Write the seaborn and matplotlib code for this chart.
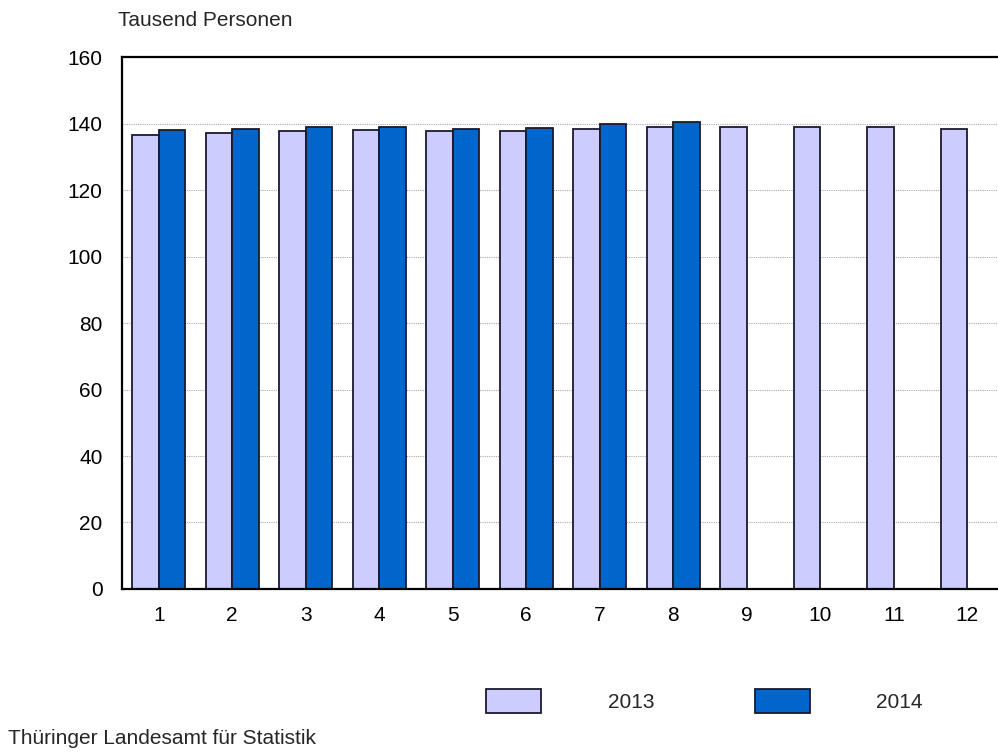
import numpy as np
import pandas as pd
import matplotlib
matplotlib.use('Agg')
import matplotlib.pyplot as plt
import seaborn as sns

# Werte (Tausend Personen) je Monat
monate = [str(m) for m in range(1, 13)]
werte_2013 = [136.5, 137.1, 137.6, 137.9, 137.7, 137.8, 138.4, 139.0, 139.0, 138.9, 138.8, 138.3]
werte_2014 = [138.1, 138.4, 139.0, 138.8, 138.4, 138.6, 139.9, 140.4, np.nan, np.nan, np.nan, np.nan]
jahre = ['2013', '2014']
farben = ['#CCCCFF', '#0066CC']

df = pd.DataFrame({
    'Monat': monate * 2,
    'Jahr': [jahre[0]] * 12 + [jahre[1]] * 12,
    'Wert': werte_2013 + werte_2014,
})

sns.set_style('white')
plt.rcParams['font.family'] = ['Liberation Sans', 'DejaVu Sans']

fig = plt.figure(figsize=(9.98, 7.56), dpi=100)
ax = fig.add_axes([0.1222, 0.2209, 0.884, 0.7037])

sns.barplot(data=df, x='Monat', y='Wert', hue='Jahr', order=monate, hue_order=jahre,
            palette=farben, width=0.72, edgecolor='#1a1a2e', linewidth=1.3,
            saturation=1, ax=ax, legend=True)

ax.set_ylim(0, 160)
ax.set_xlim(-0.5, 11.5)
ax.set_yticks(range(0, 161, 20))
ax.yaxis.grid(True, linestyle=(0, (1, 1)), color='#aaaaaa', linewidth=0.8)
ax.set_axisbelow(True)
ax.set_xlabel('')
ax.set_ylabel('')
ax.tick_params(axis='both', length=0, labelsize=15, colors='black')
ax.tick_params(axis='y', pad=14)
ax.tick_params(axis='x', pad=12)

for s in ['left', 'bottom', 'top']:
    ax.spines[s].set_color('black')
    ax.spines[s].set_linewidth(1.6)
ax.spines['right'].set_visible(False)

# Legende unten
handles, labels = ax.get_legend_handles_labels()
ax.get_legend().remove()
fig.legend(handles, labels, loc='center', bbox_to_anchor=(0.706, 0.073), ncol=2,
           frameon=False, fontsize=15, handlelength=2.64, handleheight=1.35,
           handletextpad=3.2, columnspacing=4.8)

fig.text(118 / 998, 1 - 20 / 756, 'Tausend Personen', fontsize=15, va='center', ha='left')
fig.text(8 / 998, 1 - 738 / 756, 'Thüringer Landesamt für Statistik', fontsize=15, va='center', ha='left')

fig.savefig('out.png', dpi=100)
